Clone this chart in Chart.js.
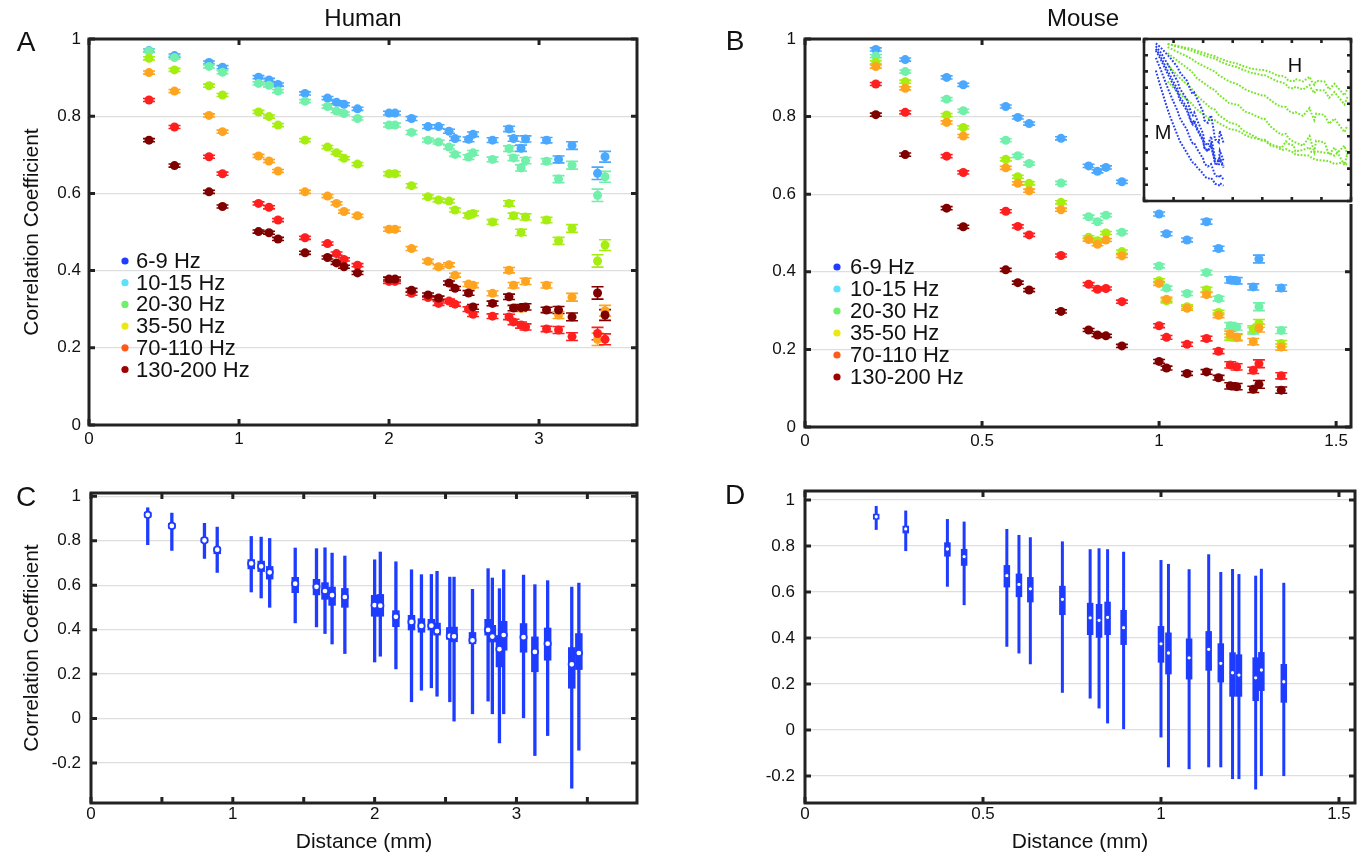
<!DOCTYPE html>
<html>
<head>
<meta charset="utf-8">
<script src="https://cdn.jsdelivr.net/npm/chart.js@4.4.1/dist/chart.umd.min.js"></script>
<style>
    body { margin: 0; background: #fff; width: 1369px; height: 858px; position: relative; overflow: hidden; font-family: "Liberation Sans", Arial, sans-serif; }
    canvas { position: absolute; }
    .lbl { position: absolute; color: #111; line-height: 1; white-space: nowrap; transform: translate(-50%, -50%); }
    .panel { font-size: 28px; }
    .head { font-size: 24px; }
    .ins { font-size: 20px; z-index: 2; }
    #inset { background: #fff; z-index: 1; }
</style>
</head>
<body>
<canvas id="chartA" width="660" height="470" style="left:0;top:0"></canvas>
<canvas id="chartB" width="669" height="470" style="left:700px;top:0"></canvas>
<canvas id="chartC" width="660" height="388" style="left:0;top:470px"></canvas>
<canvas id="chartD" width="669" height="388" style="left:700px;top:470px"></canvas>
<canvas id="inset" width="213" height="168" style="left:1141px;top:36px"></canvas>

<div class="lbl head" style="left:363px;top:18px">Human</div>
<div class="lbl head" style="left:1083px;top:18px">Mouse</div>
<div class="lbl panel" style="left:26px;top:42px">A</div>
<div class="lbl panel" style="left:735px;top:41px">B</div>
<div class="lbl panel" style="left:26px;top:497px">C</div>
<div class="lbl panel" style="left:735px;top:495px">D</div>
<div class="lbl ins" style="left:1163px;top:132px">M</div>
<div class="lbl ins" style="left:1295px;top:65px">H</div>

<script>
const FONT = '"Liberation Sans", Arial, sans-serif';
const BOX_BLUE = '#1e3cff';

const bandLabels = ['6-9 Hz', '10-15 Hz', '20-30 Hz', '35-50 Hz', '70-110 Hz', '130-200 Hz'];
const dataColors = ['#4aa8ff', '#70f0aa', '#a6ee12', '#ffa41f', '#ff1f1f', '#800000'];
const legendColors = ['#1f3dff', '#5ce1ff', '#6ef06a', '#eaea10', '#ff5a1a', '#a00000'];

// human electrode distances (mm), shared by A and C
const xHuman = [0.40, 0.57, 0.80, 0.89, 1.13, 1.20, 1.26, 1.44, 1.59, 1.65, 1.70, 1.79, 2.00, 2.04, 2.15, 2.26,
    2.33, 2.40, 2.44, 2.53, 2.56, 2.69, 2.80, 2.83, 2.88, 2.91, 3.05, 3.13, 3.22, 3.39, 3.44];

const human6_9 = [0.970, 0.957, 0.939, 0.927, 0.901, 0.894, 0.882, 0.859, 0.847, 0.836, 0.831, 0.819, 0.808, 0.808, 0.794, 0.773,
    0.773, 0.761, 0.742, 0.740, 0.753, 0.738, 0.767, 0.742, 0.717, 0.741, 0.738, 0.688, 0.724, 0.652, 0.695];
const human10_15 = [0.969, 0.952, 0.929, 0.914, 0.885, 0.880, 0.865, 0.839, 0.825, 0.813, 0.807, 0.794, 0.777, 0.777, 0.758, 0.738,
    0.733, 0.720, 0.701, 0.694, 0.705, 0.688, 0.716, 0.692, 0.666, 0.685, 0.683, 0.637, 0.673, 0.595, 0.643];
const human20_30 = [0.950, 0.920, 0.879, 0.855, 0.811, 0.799, 0.777, 0.738, 0.720, 0.705, 0.691, 0.676, 0.651, 0.651, 0.620, 0.591,
    0.583, 0.580, 0.557, 0.543, 0.548, 0.526, 0.574, 0.542, 0.499, 0.539, 0.531, 0.477, 0.509, 0.425, 0.466];
const human35_50 = [0.913, 0.865, 0.802, 0.760, 0.697, 0.684, 0.658, 0.604, 0.593, 0.574, 0.553, 0.542, 0.507, 0.507, 0.457, 0.424,
    0.410, 0.415, 0.388, 0.365, 0.362, 0.341, 0.401, 0.362, 0.302, 0.372, 0.362, 0.285, 0.331, 0.222, 0.296];
const human70_110 = [0.842, 0.772, 0.695, 0.651, 0.574, 0.564, 0.531, 0.485, 0.470, 0.444, 0.429, 0.414, 0.372, 0.372, 0.341, 0.330,
    0.315, 0.321, 0.313, 0.300, 0.287, 0.282, 0.280, 0.267, 0.259, 0.254, 0.249, 0.246, 0.229, 0.237, 0.222];
const human130_200 = [0.738, 0.672, 0.604, 0.566, 0.501, 0.498, 0.482, 0.446, 0.434, 0.420, 0.410, 0.394, 0.378, 0.378, 0.349, 0.337,
    0.329, 0.368, 0.354, 0.342, 0.306, 0.315, 0.332, 0.303, 0.304, 0.306, 0.298, 0.298, 0.280, 0.342, 0.285];
const humanErr = [0.004, 0.004, 0.004, 0.004, 0.004, 0.004, 0.004, 0.004, 0.004, 0.004, 0.004, 0.004, 0.005, 0.005, 0.005, 0.005,
    0.005, 0.005, 0.005, 0.006, 0.006, 0.006, 0.007, 0.007, 0.008, 0.008, 0.007, 0.009, 0.010, 0.016, 0.014];

// mouse electrode distances (mm), shared by B and D
const xMouse = [0.20, 0.283, 0.40, 0.447, 0.567, 0.601, 0.633, 0.723, 0.801, 0.826, 0.85, 0.895, 1.00, 1.021, 1.079,
    1.134, 1.168, 1.201, 1.219, 1.266, 1.282, 1.345];

const mouse6_9 = [0.973, 0.947, 0.901, 0.882, 0.826, 0.798, 0.782, 0.744, 0.673, 0.659, 0.669, 0.632, 0.549, 0.498, 0.482,
    0.529, 0.460, 0.379, 0.377, 0.361, 0.433, 0.358];
const mouse10_15 = [0.956, 0.916, 0.845, 0.815, 0.739, 0.699, 0.679, 0.629, 0.542, 0.529, 0.546, 0.502, 0.415, 0.358, 0.344,
    0.398, 0.331, 0.261, 0.258, 0.248, 0.310, 0.249];
const mouse20_30 = [0.940, 0.890, 0.804, 0.772, 0.690, 0.645, 0.628, 0.579, 0.489, 0.480, 0.500, 0.452, 0.377, 0.325, 0.310,
    0.354, 0.295, 0.232, 0.230, 0.253, 0.267, 0.215];
const mouse35_50 = [0.929, 0.873, 0.785, 0.750, 0.668, 0.628, 0.609, 0.560, 0.483, 0.471, 0.482, 0.441, 0.370, 0.329, 0.306,
    0.341, 0.288, 0.239, 0.232, 0.220, 0.255, 0.206];
const mouse70_110 = [0.884, 0.811, 0.698, 0.656, 0.556, 0.517, 0.495, 0.442, 0.368, 0.355, 0.357, 0.323, 0.261, 0.231, 0.213,
    0.228, 0.195, 0.160, 0.155, 0.146, 0.163, 0.132];
const mouse130_200 = [0.805, 0.702, 0.564, 0.516, 0.405, 0.372, 0.353, 0.298, 0.250, 0.237, 0.235, 0.209, 0.169, 0.152, 0.138,
    0.142, 0.127, 0.106, 0.104, 0.097, 0.110, 0.095];
const mouseErr = [0.004, 0.004, 0.004, 0.004, 0.004, 0.004, 0.004, 0.004, 0.004, 0.004, 0.004, 0.004, 0.005, 0.005, 0.005,
    0.006, 0.006, 0.008, 0.008, 0.008, 0.010, 0.008];

// C: distribution summaries per human distance
const humanMed = [0.917, 0.867, 0.802, 0.760, 0.698, 0.685, 0.658, 0.607, 0.593, 0.574, 0.555, 0.547, 0.510, 0.508, 0.458, 0.435,
    0.417, 0.418, 0.393, 0.372, 0.370, 0.352, 0.399, 0.369, 0.312, 0.376, 0.366, 0.300, 0.337, 0.244, 0.295];
const humanQ1 = [0.905, 0.855, 0.790, 0.740, 0.672, 0.660, 0.626, 0.565, 0.555, 0.535, 0.508, 0.499, 0.459, 0.459, 0.412, 0.397,
    0.387, 0.397, 0.374, 0.355, 0.344, 0.335, 0.374, 0.343, 0.231, 0.306, 0.297, 0.209, 0.261, 0.135, 0.219];
const humanQ3 = [0.930, 0.880, 0.815, 0.770, 0.717, 0.710, 0.686, 0.637, 0.628, 0.613, 0.593, 0.587, 0.556, 0.560, 0.487, 0.466,
    0.451, 0.448, 0.431, 0.411, 0.413, 0.389, 0.448, 0.421, 0.375, 0.439, 0.429, 0.369, 0.409, 0.321, 0.384];
const humanLo = [0.781, 0.755, 0.719, 0.656, 0.568, 0.541, 0.499, 0.429, 0.411, 0.381, 0.334, 0.291, 0.253, 0.279, 0.222, 0.074,
    0.126, 0.137, 0.099, 0.074, -0.013, 0.020, 0.077, 0.020, -0.111, 0.020, 0.002, -0.168, -0.078, -0.315, -0.144];
const humanHi = [0.950, 0.926, 0.880, 0.863, 0.821, 0.818, 0.812, 0.769, 0.766, 0.770, 0.746, 0.733, 0.716, 0.751, 0.707, 0.671,
    0.649, 0.650, 0.664, 0.638, 0.638, 0.583, 0.676, 0.634, 0.586, 0.671, 0.647, 0.604, 0.622, 0.593, 0.611];

// D: distribution summaries per mouse distance
const mouseMed = [0.927, 0.874, 0.787, 0.754, 0.671, 0.633, 0.614, 0.568, 0.488, 0.477, 0.490, 0.445, 0.375, 0.335, 0.314,
    0.351, 0.290, 0.249, 0.239, 0.227, 0.261, 0.210];
const mouseQ1 = [0.915, 0.855, 0.754, 0.714, 0.620, 0.578, 0.555, 0.500, 0.413, 0.401, 0.413, 0.370, 0.293, 0.242, 0.220,
    0.258, 0.207, 0.145, 0.145, 0.126, 0.170, 0.119];
const mouseQ3 = [0.940, 0.888, 0.816, 0.787, 0.717, 0.680, 0.665, 0.627, 0.553, 0.548, 0.558, 0.522, 0.452, 0.424, 0.398,
    0.430, 0.377, 0.338, 0.329, 0.316, 0.339, 0.287];
const mouseLo = [0.870, 0.778, 0.623, 0.543, 0.362, 0.333, 0.286, 0.162, 0.137, 0.094, 0.029, 0.004, -0.032, -0.162, -0.170,
    -0.162, -0.162, -0.213, -0.213, -0.258, -0.200, -0.200];
const mouseHi = [0.974, 0.954, 0.917, 0.906, 0.874, 0.848, 0.838, 0.820, 0.786, 0.790, 0.786, 0.775, 0.739, 0.722, 0.699,
    0.764, 0.687, 0.700, 0.678, 0.671, 0.701, 0.640];

const ticksA = [0, 1, 2, 3];
const ticksB = [0, 0.5, 1, 1.5];
const ticksC = [0, 0.5, 1, 1.5, 2, 2.5, 3, 3.5];
const ticksInsetX = [0, 0.5, 1, 1.5, 2, 2.5, 3, 3.5];
const ticksCorr = [0, 0.2, 0.4, 0.6, 0.8, 1];
const ticksCorrNeg = [-0.2, 0, 0.2, 0.4, 0.6, 0.8, 1];
const ticksInsetY = [0, 0.1, 0.2, 0.3, 0.4, 0.5, 0.6, 0.7, 0.8, 0.9, 1];

const humanBands = [human6_9, human10_15, human20_30, human35_50, human70_110, human130_200];
const mouseBands = [mouse6_9, mouse10_15, mouse20_30, mouse35_50, mouse70_110, mouse130_200];

const points = (xs, ys) => xs.map((x, i) => ({ x, y: ys[i] }));
const fmt = v => String(+v.toFixed(1));

// box frame with inward tick marks, matlab style
const framePlugin = {
    id: 'frame',
    afterDatasetsDraw(chart, args, opts) {
        const { ctx, chartArea: a, scales: { x, y } } = chart;
        const len = opts.tick || 6;
        ctx.save();
        ctx.strokeStyle = '#222';
        ctx.lineWidth = opts.width || 3;
        ctx.beginPath();
        opts.xTicks.forEach(v => {
            const px = x.getPixelForValue(v);
            ctx.moveTo(px, a.bottom);
            ctx.lineTo(px, a.bottom - len);
            ctx.moveTo(px, a.top);
            ctx.lineTo(px, a.top + len);
        });
        opts.yTicks.forEach(v => {
            const py = y.getPixelForValue(v);
            ctx.moveTo(a.left, py);
            ctx.lineTo(a.left + len, py);
            ctx.moveTo(a.right, py);
            ctx.lineTo(a.right - len, py);
        });
        ctx.stroke();
        ctx.strokeRect(a.left, a.top, a.right - a.left, a.bottom - a.top);
        ctx.restore();
    },
};

const errorBarPlugin = {
    id: 'errorBars',
    beforeDatasetsDraw(chart) {
        const { ctx, scales: { x, y } } = chart;
        ctx.save();
        ctx.lineWidth = 1.6;
        chart.data.datasets.forEach(ds => {
            if (!ds.errors) return;
            ctx.strokeStyle = ds.backgroundColor;
            ds.data.forEach((p, j) => {
                const px = x.getPixelForValue(p.x);
                const top = y.getPixelForValue(p.y + ds.errors[j]);
                const bot = y.getPixelForValue(p.y - ds.errors[j]);
                ctx.beginPath();
                ctx.moveTo(px, top);
                ctx.lineTo(px, bot);
                ctx.moveTo(px - 6, top);
                ctx.lineTo(px + 6, top);
                ctx.moveTo(px - 6, bot);
                ctx.lineTo(px + 6, bot);
                ctx.stroke();
            });
        });
        ctx.restore();
    },
};

const boxPlugin = {
    id: 'boxes',
    beforeDatasetsDraw(chart, args, opts) {
        if (!opts.xs) return;
        const { ctx, scales: { x, y } } = chart;
        ctx.save();
        ctx.fillStyle = BOX_BLUE;
        opts.xs.forEach((v, i) => {
            const px = x.getPixelForValue(v);
            const hi = y.getPixelForValue(opts.hi[i]);
            const lo = y.getPixelForValue(opts.lo[i]);
            const q3 = y.getPixelForValue(opts.q3[i]);
            const q1 = y.getPixelForValue(opts.q1[i]);
            ctx.fillRect(px - opts.whisker / 2, hi, opts.whisker, lo - hi);
            ctx.fillRect(px - opts.box / 2, q3, opts.box, q1 - q3);
        });
        ctx.restore();
    },
};

const legendPlugin = {
    id: 'bandLegend',
    afterDraw(chart, args, opts) {
        if (!opts.labels) return;
        const { ctx, chartArea: a } = chart;
        ctx.save();
        ctx.font = '22px ' + FONT;
        ctx.textBaseline = 'middle';
        opts.labels.forEach((label, i) => {
            const py = a.top + opts.top + i * opts.gap;
            ctx.fillStyle = opts.colors[i];
            ctx.beginPath();
            ctx.arc(a.left + opts.dotX, py, 3.6, 0, Math.PI * 2);
            ctx.fill();
            ctx.fillStyle = '#111';
            ctx.fillText(label, a.left + opts.textX, py + 1);
        });
        ctx.restore();
    },
};

function axis(o) {
    return {
        type: 'linear',
        display: o.hidden ? false : true,
        min: o.min,
        max: o.max,
        afterBuildTicks: s => { s.ticks = o.ticks.map(v => ({ value: v })); },
        afterFit: s => {
            if (o.size == null) return;
            if (s.isHorizontal()) s.height = o.size; else s.width = o.size;
        },
        grid: { display: !!o.grid, color: '#dedede', lineWidth: 1.3, drawTicks: false },
        border: { display: false },
        ticks: {
            color: '#111',
            font: { family: FONT, size: 17 },
            padding: o.pad,
            autoSkip: false,
            maxRotation: 0,
            callback: o.label || fmt,
        },
        title: o.title
            ? { display: true, text: o.title, color: '#111', font: { family: FONT, size: o.titleSize }, padding: o.titlePad }
            : { display: false },
    };
}

function baseOptions(pad, x, y, plugins) {
    return {
        responsive: false,
        animation: false,
        layout: { padding: pad },
        scales: { x, y },
        plugins: { legend: { display: false }, tooltip: { enabled: false }, ...plugins },
    };
}

function bandDatasets(xs, bands, errs) {
    return bands.map((ys, i) => ({
        label: bandLabels[i],
        data: points(xs, ys),
        errors: errs,
        backgroundColor: dataColors[i],
        pointRadius: 4.5,
        pointBorderWidth: 0,
        order: bands.length - i,
    }));
}

// A: human
new Chart(document.getElementById('chartA'), {
    type: 'scatter',
    data: { datasets: bandDatasets(xHuman, humanBands, humanErr) },
    options: baseOptions(
        { left: 0, top: 39, right: 23, bottom: 0 },
        axis({ min: 0, max: 3.653, ticks: ticksA, size: 45, pad: 4 }),
        axis({ min: 0, max: 1, ticks: ticksCorr, size: 89, pad: 8, grid: true,
            title: 'Correlation Coefficient', titleSize: 21, titlePad: { top: 20, bottom: 0 } }),
        {
            frame: { xTicks: ticksA, yTicks: ticksCorr },
            bandLegend: { labels: bandLabels, colors: legendColors, dotX: 36, textX: 47, top: 222, gap: 21.7 },
        }
    ),
    plugins: [errorBarPlugin, framePlugin, legendPlugin],
});

// B: mouse
new Chart(document.getElementById('chartB'), {
    type: 'scatter',
    data: { datasets: bandDatasets(xMouse, mouseBands, mouseErr) },
    options: baseOptions(
        { left: 0, top: 39, right: 18, bottom: 0 },
        axis({ min: 0, max: 1.542, ticks: ticksB, size: 43, pad: 4 }),
        axis({ min: 0, max: 1, ticks: ticksCorr, size: 105, pad: 9, grid: true }),
        {
            frame: { xTicks: ticksB, yTicks: ticksCorr },
            bandLegend: { labels: bandLabels, colors: legendColors, dotX: 32, textX: 45, top: 228, gap: 22 },
        }
    ),
    plugins: [errorBarPlugin, framePlugin, legendPlugin],
});

// B inset: raw curves of both species on a shared distance axis
const insetSets = [
    ...mouseBands.map(ys => ({ data: points(xMouse, ys), borderColor: '#2540f0' })),
    ...humanBands.map(ys => ({ data: points(xHuman, ys), borderColor: '#77e62a' })),
].map(ds => ({ ...ds, borderWidth: 2, borderDash: [1.8, 1.6], pointRadius: 0, tension: 0, fill: false }));

new Chart(document.getElementById('inset'), {
    type: 'line',
    data: { datasets: insetSets },
    options: baseOptions(
        3,
        axis({ min: 0, max: 3.5, ticks: ticksInsetX, hidden: true }),
        axis({ min: 0, max: 1, ticks: ticksInsetY, hidden: true }),
        { frame: { xTicks: ticksInsetX, yTicks: ticksInsetY, width: 2.6, tick: 4 } }
    ),
    plugins: [framePlugin],
});

function medianSet(xs, meds, radius, border) {
    return [{
        data: points(xs, meds),
        backgroundColor: '#fff',
        pointBackgroundColor: '#fff',
        pointBorderColor: BOX_BLUE,
        pointBorderWidth: border,
        pointRadius: radius,
    }];
}

// C: human distributions
new Chart(document.getElementById('chartC'), {
    type: 'scatter',
    data: { datasets: medianSet(xHuman, humanMed, 3.2, 1.7) },
    options: baseOptions(
        { left: 0, top: 23, right: 23, bottom: 0 },
        axis({ min: 0, max: 3.85, ticks: ticksC, size: 55, pad: 1,
            label: v => (Number.isInteger(v) ? String(v) : ''),
            title: 'Distance (mm)', titleSize: 21, titlePad: { top: 0, bottom: 3 } }),
        axis({ min: -0.38, max: 1.015, ticks: ticksCorrNeg, size: 91, pad: 10, grid: true,
            title: 'Correlation Coefficient', titleSize: 21, titlePad: { top: 20, bottom: 0 } }),
        {
            frame: { xTicks: ticksC, yTicks: ticksCorrNeg },
            boxes: { xs: xHuman, lo: humanLo, q1: humanQ1, q3: humanQ3, hi: humanHi, whisker: 3.3, box: 7.5 },
        }
    ),
    plugins: [boxPlugin, framePlugin],
});

// D: mouse distributions
new Chart(document.getElementById('chartD'), {
    type: 'scatter',
    data: { datasets: medianSet(xMouse, mouseMed, 2.2, 1.1) },
    options: baseOptions(
        { left: 0, top: 21, right: 14, bottom: 0 },
        axis({ min: 0, max: 1.545, ticks: ticksB, size: 55, pad: 1,
            title: 'Distance (mm)', titleSize: 21, titlePad: { top: 0, bottom: 3 } }),
        axis({ min: -0.317, max: 1.039, ticks: ticksCorrNeg, size: 105, pad: 10, grid: true }),
        {
            frame: { xTicks: ticksB, yTicks: ticksCorrNeg },
            boxes: { xs: xMouse, lo: mouseLo, q1: mouseQ1, q3: mouseQ3, hi: mouseHi, whisker: 3, box: 6.5 },
        }
    ),
    plugins: [boxPlugin, framePlugin],
});
</script>
</body>
</html>
